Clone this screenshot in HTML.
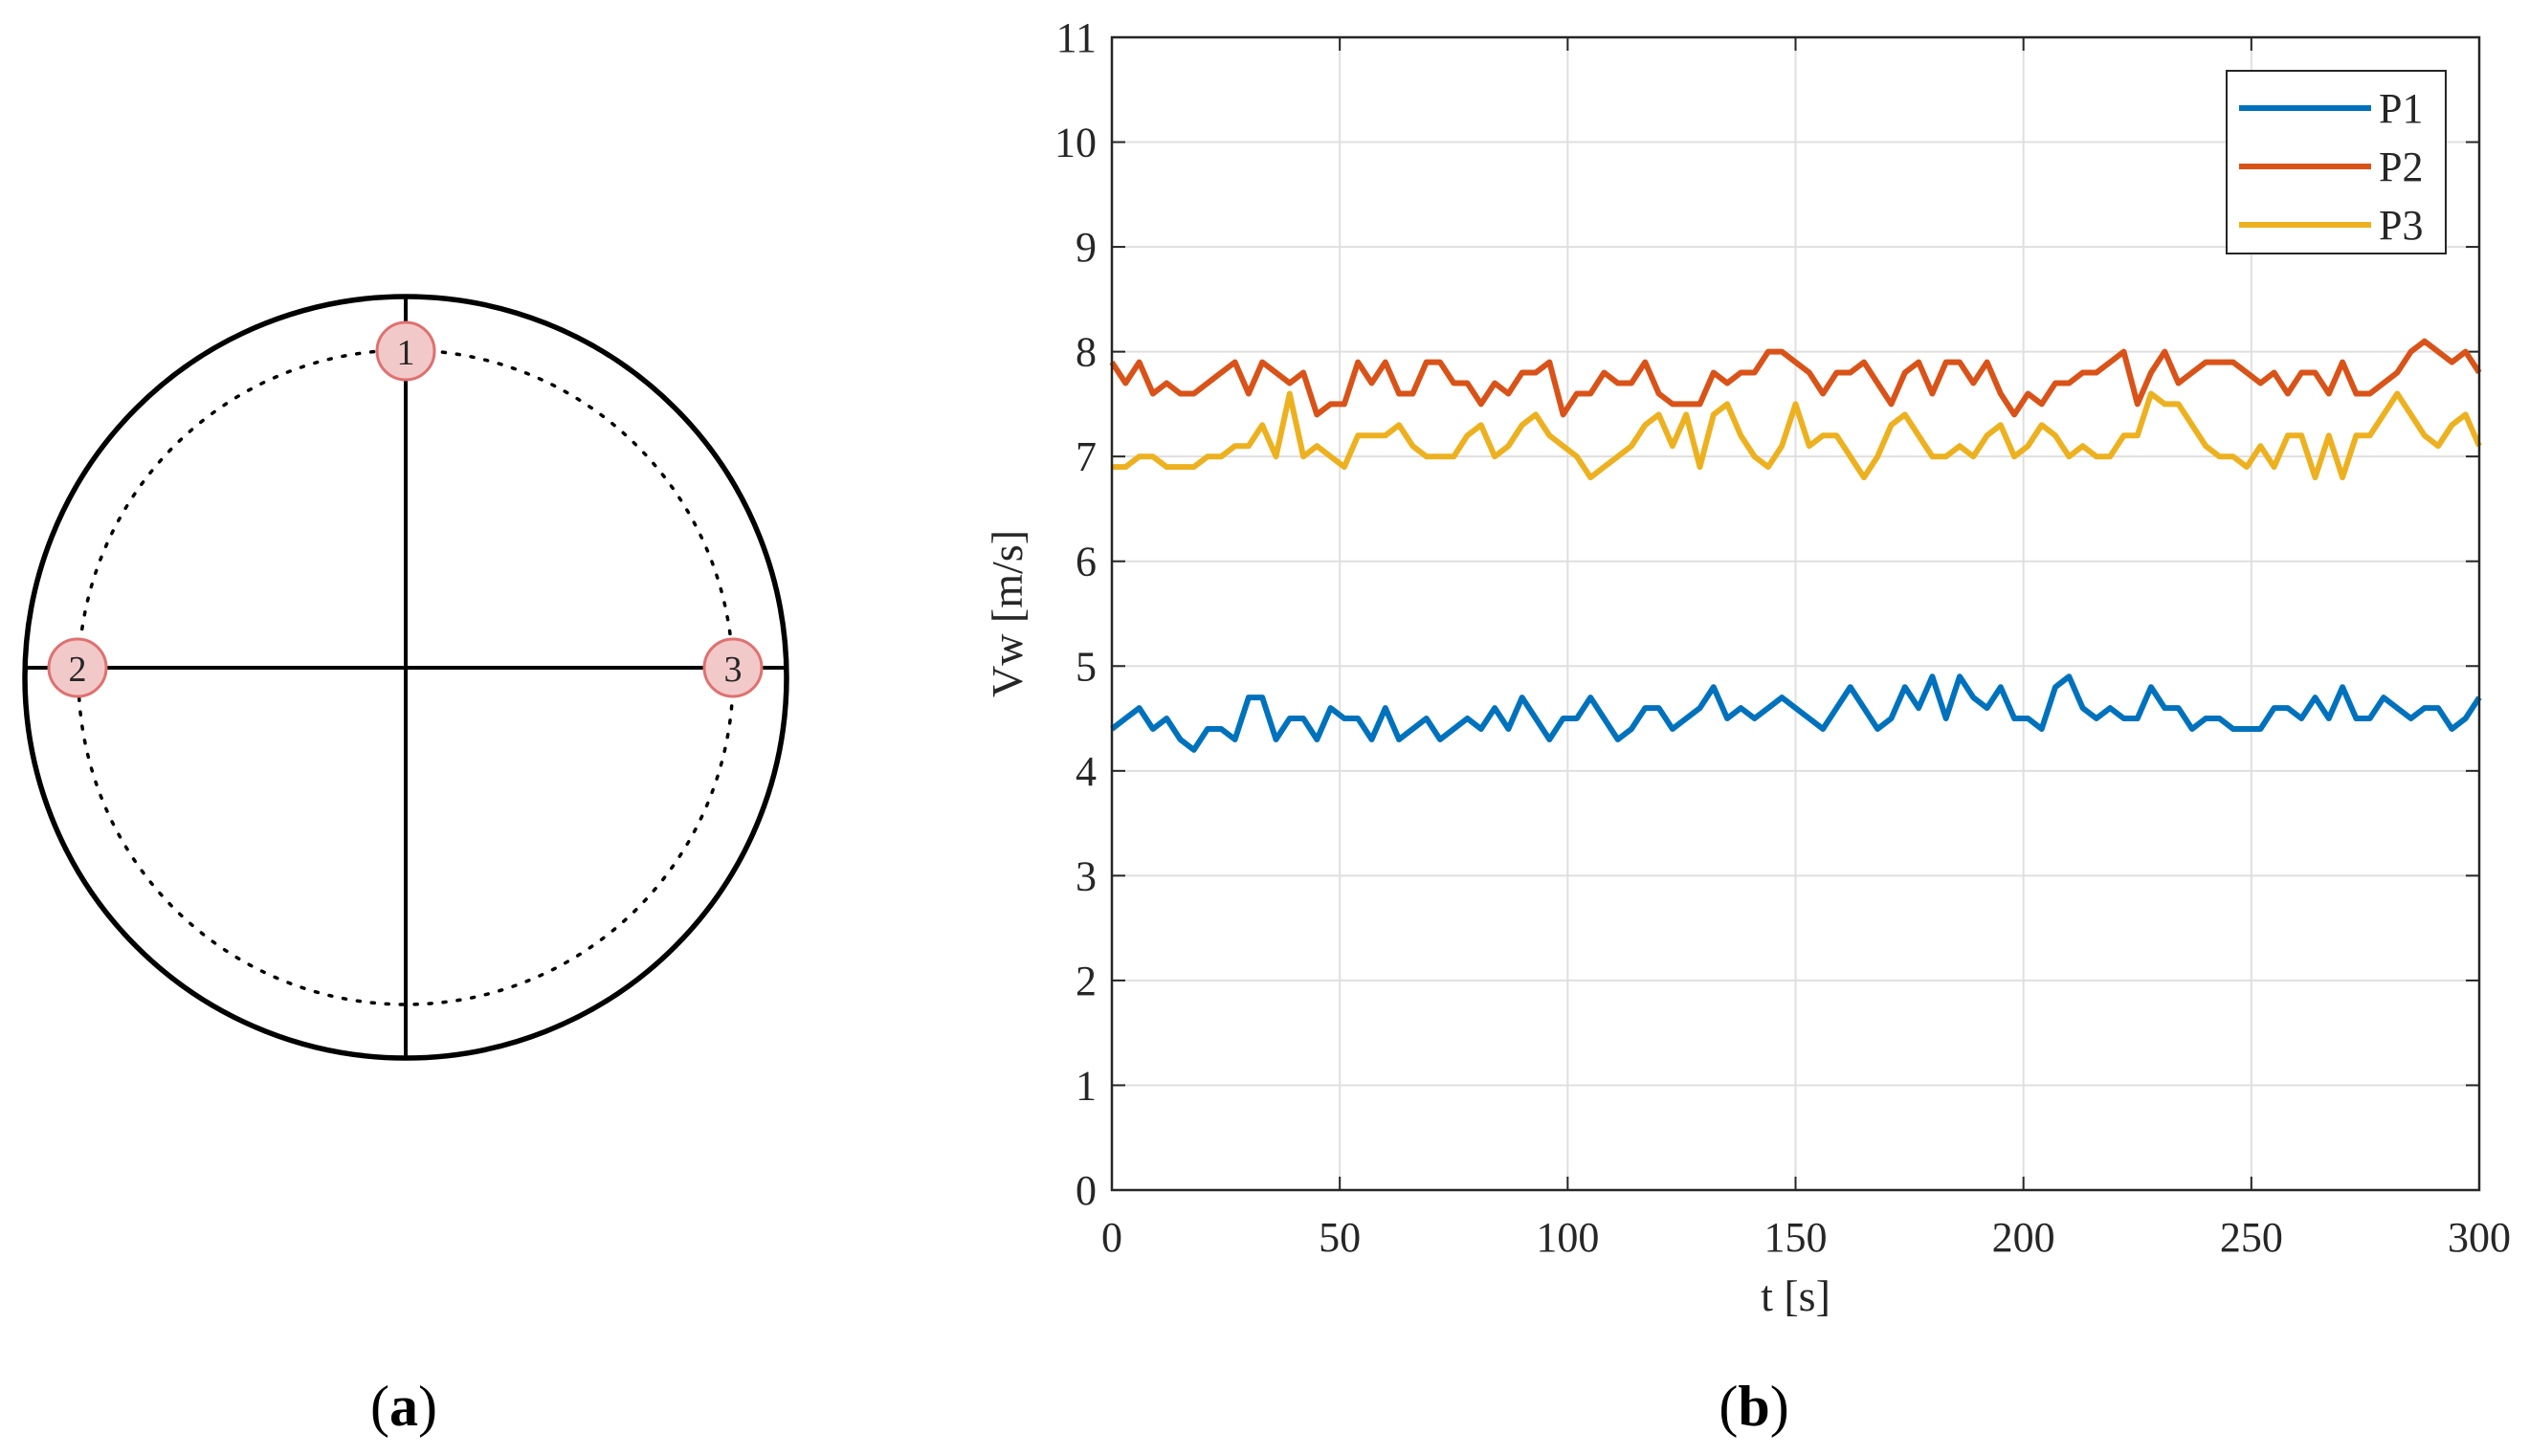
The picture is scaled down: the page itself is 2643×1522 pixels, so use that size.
<!DOCTYPE html>
<html><head><meta charset="utf-8">
<style>
html,body{margin:0;padding:0;background:#fff;}
svg{display:block;}
text{font-family:"Liberation Serif",serif;fill:#262626;}
</style></head>
<body>
<svg id="fig" width="2643" height="1522" viewBox="0 0 2643 1522" xmlns="http://www.w3.org/2000/svg">
  <g>
    <circle cx="424" cy="708" r="398" fill="none" stroke="#000" stroke-width="5.5"/>
    <circle cx="424" cy="708" r="342" fill="none" stroke="#000" stroke-width="3.5" stroke-dasharray="3 12" stroke-linecap="round"/>
    <line x1="26" y1="698" x2="822" y2="698" stroke="#000" stroke-width="4"/>
    <line x1="424" y1="310" x2="424" y2="1106" stroke="#000" stroke-width="4"/>
    <g>
      <circle cx="424" cy="367" r="30" fill="#f2c9c9" stroke="#e07070" stroke-width="3"/>
      <text x="424" y="381" font-size="38" text-anchor="middle">1</text>
    </g>
    <g>
      <circle cx="81" cy="698" r="30" fill="#f2c9c9" stroke="#e07070" stroke-width="3"/>
      <text x="81" y="712" font-size="38" text-anchor="middle">2</text>
    </g>
    <g>
      <circle cx="766" cy="698" r="30" fill="#f2c9c9" stroke="#e07070" stroke-width="3"/>
      <text x="766" y="712" font-size="38" text-anchor="middle">3</text>
    </g>
    <text x="422" y="1490" font-size="60" text-anchor="middle" style="fill:#000">(<tspan font-weight="bold">a</tspan>)</text>
  </g>
  <g id="chart"></g>
  <text x="1833" y="1490" font-size="60" text-anchor="middle" style="fill:#000">(<tspan font-weight="bold">b</tspan>)</text>
</svg>
<script>
const times = [];
for (let i = 0; i <= 100; i++) times.push(i * 3);
const p1Values = [4.4,4.5,4.6,4.4,4.5,4.3,4.2,4.4,4.4,4.3,4.7,4.7,4.3,4.5,4.5,4.3,4.6,4.5,4.5,4.3,4.6,4.3,4.4,4.5,4.3,4.4,4.5,4.4,4.6,4.4,4.7,4.5,4.3,4.5,4.5,4.7,4.5,4.3,4.4,4.6,4.6,4.4,4.5,4.6,4.8,4.5,4.6,4.5,4.6,4.7,4.6,4.5,4.4,4.6,4.8,4.6,4.4,4.5,4.8,4.6,4.9,4.5,4.9,4.7,4.6,4.8,4.5,4.5,4.4,4.8,4.9,4.6,4.5,4.6,4.5,4.5,4.8,4.6,4.6,4.4,4.5,4.5,4.4,4.4,4.4,4.6,4.6,4.5,4.7,4.5,4.8,4.5,4.5,4.7,4.6,4.5,4.6,4.6,4.4,4.5,4.7];
const p2Values = [7.9,7.7,7.9,7.6,7.7,7.6,7.6,7.7,7.8,7.9,7.6,7.9,7.8,7.7,7.8,7.4,7.5,7.5,7.9,7.7,7.9,7.6,7.6,7.9,7.9,7.7,7.7,7.5,7.7,7.6,7.8,7.8,7.9,7.4,7.6,7.6,7.8,7.7,7.7,7.9,7.6,7.5,7.5,7.5,7.8,7.7,7.8,7.8,8.0,8.0,7.9,7.8,7.6,7.8,7.8,7.9,7.7,7.5,7.8,7.9,7.6,7.9,7.9,7.7,7.9,7.6,7.4,7.6,7.5,7.7,7.7,7.8,7.8,7.9,8.0,7.5,7.8,8.0,7.7,7.8,7.9,7.9,7.9,7.8,7.7,7.8,7.6,7.8,7.8,7.6,7.9,7.6,7.6,7.7,7.8,8.0,8.1,8.0,7.9,8.0,7.8];
const p3Values = [6.9,6.9,7.0,7.0,6.9,6.9,6.9,7.0,7.0,7.1,7.1,7.3,7.0,7.6,7.0,7.1,7.0,6.9,7.2,7.2,7.2,7.3,7.1,7.0,7.0,7.0,7.2,7.3,7.0,7.1,7.3,7.4,7.2,7.1,7.0,6.8,6.9,7.0,7.1,7.3,7.4,7.1,7.4,6.9,7.4,7.5,7.2,7.0,6.9,7.1,7.5,7.1,7.2,7.2,7.0,6.8,7.0,7.3,7.4,7.2,7.0,7.0,7.1,7.0,7.2,7.3,7.0,7.1,7.3,7.2,7.0,7.1,7.0,7.0,7.2,7.2,7.6,7.5,7.5,7.3,7.1,7.0,7.0,6.9,7.1,6.9,7.2,7.2,6.8,7.2,6.8,7.2,7.2,7.4,7.6,7.4,7.2,7.1,7.3,7.4,7.1];
const seriesNames = ["P1","P2","P3"];
const xTicks = [0,50,100,150,200,250,300];
const yTicks = [0,1,2,3,4,5,6,7,8,9,10,11];

const NS = "http://www.w3.org/2000/svg";
const L = 1162, R = 2591, T = 39, B = 1244;
const xMin = 0, xMax = 300, yMin = 0, yMax = 11;
const sx = v => L + (v - xMin) / (xMax - xMin) * (R - L);
const sy = v => B - (v - yMin) / (yMax - yMin) * (B - T);
const chart = document.getElementById('chart');
function mk(tag, attrs, parent) {
  const e = document.createElementNS(NS, tag);
  for (const k in attrs) e.setAttribute(k, attrs[k]);
  (parent || chart).appendChild(e);
  return e;
}
const bg = mk('rect', {x: L, y: T, width: R - L, height: B - T, fill: '#fff'});


xTicks.forEach(t => {
  const x = sx(t);
  const g = mk('line', {x1: x, y1: T, x2: x, y2: B, stroke: '#dfdfdf', 'stroke-width': 2});
  
  
  mk('line', {x1: x, y1: B, x2: x, y2: B - 14, stroke: '#262626', 'stroke-width': 2});
  mk('line', {x1: x, y1: T, x2: x, y2: T + 14, stroke: '#262626', 'stroke-width': 2});
  const lb = mk('text', {x: x, y: B + 64, 'font-size': 44, 'text-anchor': 'middle'});
  lb.textContent = t;
  
  
});
yTicks.forEach(t => {
  const y = sy(t);
  const g = mk('line', {x1: L, y1: y, x2: R, y2: y, stroke: '#dfdfdf', 'stroke-width': 2});
  
  
  mk('line', {x1: L, y1: y, x2: L + 14, y2: y, stroke: '#262626', 'stroke-width': 2});
  mk('line', {x1: R, y1: y, x2: R - 14, y2: y, stroke: '#262626', 'stroke-width': 2});
  const lb = mk('text', {x: L - 16, y: y + 15, 'font-size': 44, 'text-anchor': 'end'});
  lb.textContent = t;
  
  
});
const colors = ['#0072BD', '#D95319', '#EDB120'];
[p1Values, p2Values, p3Values].forEach((vals, i) => {
  const d = vals.map((v, j) => (j ? 'L' : 'M') + sx(times[j]).toFixed(1) + ',' + sy(v).toFixed(1)).join(' ');
  const p = mk('path', {d: d, fill: 'none', stroke: colors[i], 'stroke-width': 6, 'stroke-linejoin': 'round'});
  
  
});
const fr = mk('rect', {x: L, y: T, width: R - L, height: B - T, fill: 'none', stroke: '#262626', 'stroke-width': 2.5});


const xt = mk('text', {x: (L + R) / 2, y: 1370, 'font-size': 46, 'text-anchor': 'middle'});
xt.textContent = 't [s]';


const yt = mk('text', {x: 0, y: 0, 'font-size': 46, 'text-anchor': 'middle', transform: 'translate(1068,' + ((T + B) / 2) + ') rotate(-90)'});
yt.textContent = 'Vw [m/s]';


const lg = mk('g', {});


mk('rect', {x: 2327, y: 74, width: 229, height: 191, fill: '#fff', stroke: '#262626', 'stroke-width': 2}, lg);
seriesNames.forEach((n, i) => {
  const y = 113 + i * 61;
  const e = mk('g', {}, lg);
  
  
  mk('line', {x1: 2340, y1: y, x2: 2478, y2: y, stroke: colors[i], 'stroke-width': 6}, e);
  const t = mk('text', {x: 2486, y: y + 15, 'font-size': 44}, e);
  t.textContent = n;
});
</script>
</body></html>
